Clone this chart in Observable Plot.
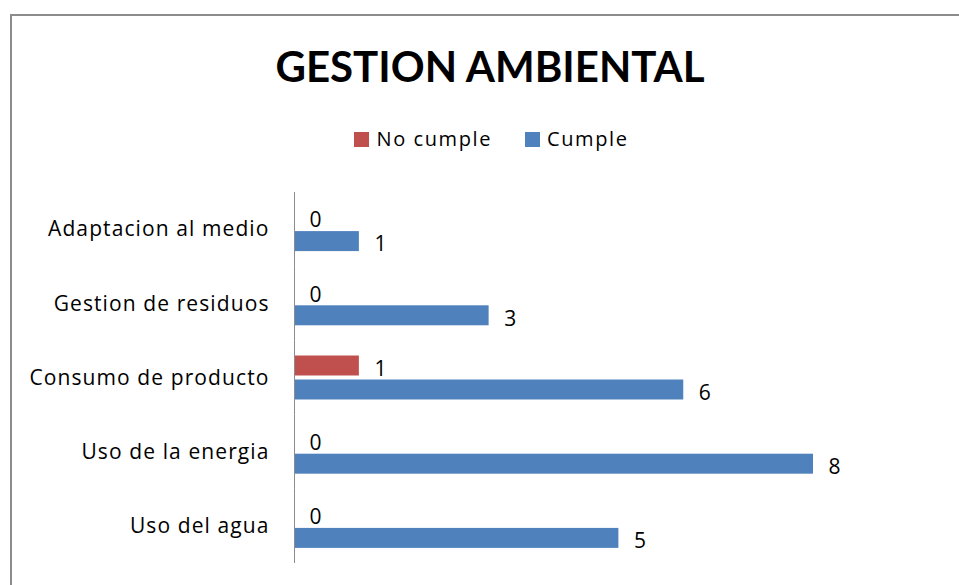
<!DOCTYPE html>
<html>
<head>
<meta charset="utf-8">
<script src="https://cdn.jsdelivr.net/npm/d3@7"></script>
<script src="https://cdn.jsdelivr.net/npm/@observablehq/plot@0.6"></script>
<style>
  html, body { margin: 0; padding: 0; background: #fff; }
  body { width: 959px; height: 585px; position: relative; overflow: hidden; font-family: "Open Sans", Lato, sans-serif; }
  #frame { position: absolute; left: 10px; top: 14px; width: 1000px; height: 700px; border: 2px solid #8c8c8c; box-sizing: border-box; }
  #title { position: absolute; left: 0; width: 980px; top: 46px; text-align: center; font-family: Lato, sans-serif; font-weight: 700; font-size: 42px; line-height: 41px; letter-spacing: 0px; color: #000; }
  #legend { position: absolute; left: 0; width: 983px; top: 129px; display: flex; justify-content: center; align-items: center; font-size: 20px; line-height: 20px; letter-spacing: 1.6px; color: #000; }
  .item { display: flex; align-items: center; }
  .sw { width: 15px; height: 15px; margin-right: 7px; }
  #chart { position: absolute; left: 0; top: 0; }
  #chart svg g[aria-label="fy-axis tick label"] text { letter-spacing: 1.1px; }
</style>
</head>
<body>
<div id="frame"></div>
<div id="title">GESTION AMBIENTAL</div>
<div id="legend"></div>
<div id="chart"></div>
<script>
const categories = ["Adaptacion al medio", "Gestion de residuos", "Consumo de producto", "Uso de la energia", "Uso del agua"];
const series = ["No cumple", "Cumple"];
const noCumple = [0, 0, 1, 0, 0];
const cumple = [1, 3, 6, 8, 5];
const colors = ["#C0504D", "#4F81BD"];

const data = [];
categories.forEach((c, i) => {
  data.push({category: c, series: series[0], value: noCumple[i]});
  data.push({category: c, series: series[1], value: cumple[i]});
});

// legend
const legend = document.getElementById("legend");
series.forEach((s, i) => {
  const it = document.createElement("div");
  it.className = "item";
  if (i > 0) it.style.marginLeft = "33px";
  const sw = document.createElement("div");
  sw.className = "sw";
  sw.style.background = colors[i];
  const t = document.createElement("span");
  t.textContent = s;
  it.appendChild(sw); it.appendChild(t);
  legend.appendChild(it);
});

const chart = Plot.plot({
  width: 959,
  height: 585,
  marginLeft: 294,
  marginRight: 146,
  marginTop: 192,
  marginBottom: 22,
  style: {fontFamily: "'Open Sans', Lato, sans-serif", background: "transparent", color: "#000"},
  x: {domain: [0, 8], axis: null},
  y: {domain: series, axis: null, paddingInner: 0.167, paddingOuter: 0.63, round: false},
  fy: {domain: categories, padding: 0, round: false},
  color: {domain: series, range: colors},
  marks: [
    Plot.axisFy({anchor: "left", tickSize: 0, tickPadding: 25, fontSize: 21, label: null, textAnchor: "end"}),
    Plot.barX(data, {x: "value", y: "series", fy: "category", fill: "series"}),
    Plot.text(data, {x: "value", y: "series", fy: "category", text: d => String(d.value), dx: 15, dy: 3, textAnchor: "start", fontSize: 21, fill: "#000"}),
    Plot.ruleX([0], {stroke: "#8c8c8c", strokeWidth: 1})
  ]
});
document.getElementById("chart").appendChild(chart);
</script>
</body>
</html>
